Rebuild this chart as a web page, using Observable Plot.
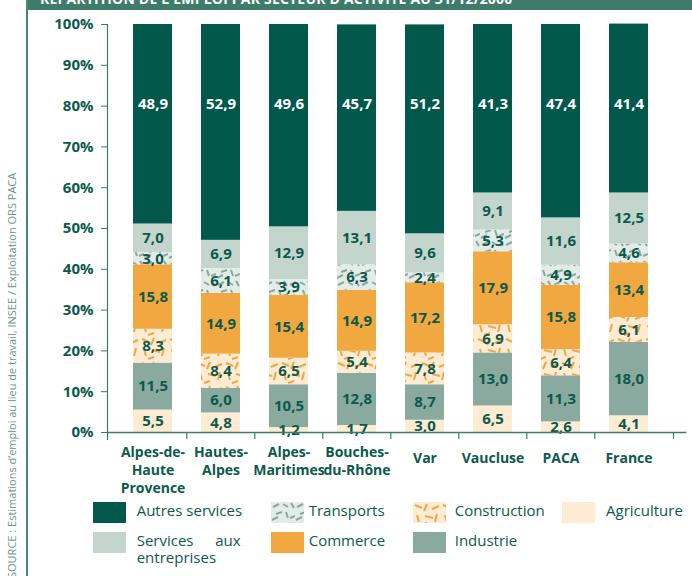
<!DOCTYPE html>
<html>
<head>
<meta charset="utf-8">
<script src="https://cdn.jsdelivr.net/npm/d3@7"></script>
<script src="https://cdn.jsdelivr.net/npm/@observablehq/plot@0.6"></script>
<style>
  body { margin: 0; background: #fff; font-family: "Open Sans", sans-serif; }
  #page { position: relative; width: 692px; height: 576px; overflow: hidden; background: #fff; }
  #chart { position: absolute; left: 0; top: 0; }
  #header { position: absolute; left: 27px; top: 0; right: 0; height: 10px; background: #3e7b6b; overflow: hidden; }
  #header span { position: absolute; left: 13px; top: -8px; color: #fff; font-weight: bold; font-size: 14px; line-height: 14px; white-space: nowrap; letter-spacing: 0.2px; }
  #border { position: absolute; left: 26px; top: 0; width: 2px; height: 576px; background: #4a8473; }
  #source { position: absolute; left: 5px; top: 578px; transform: rotate(-90deg); transform-origin: left top; white-space: nowrap; font-size: 11px; line-height: 14px; color: #6d958a; }
  #legend { position: absolute; left: 0; top: 0; }
  .item { position: absolute; display: flex; align-items: flex-start; color: #0b5a4b; font-size: 15px; line-height: 17px; }
  .item svg { flex: none; display: block; }
  .item .lab { white-space: nowrap; }
  .item .lab.wrap { white-space: normal; width: 104px; text-align: justify; }
</style>
</head>
<body>
<div id="page">
  <div id="chart"></div>
  <div id="header"><span>RÉPARTITION DE L'EMPLOI PAR SECTEUR D'ACTIVITÉ AU 31/12/2000</span></div>
  <div id="border"></div>
  <div id="source">SOURCE : Estimations d’emploi au lieu de travail, INSEE / Exploitation ORS PACA</div>
  <div id="legend"></div>
</div>
<script>
// ---- Data ----
const regions = ["Alpes-de-Haute Provence", "Hautes-Alpes", "Alpes-Maritimes", "Bouches-du-Rhône", "Var", "Vaucluse", "PACA", "France"];
const regionLabels = ["Alpes-de-\nHaute\nProvence", "Hautes-\nAlpes", "Alpes-\nMaritimes", "Bouches-\ndu-Rhône", "Var", "Vaucluse", "PACA", "France"];
const sectors = ["Agriculture", "Industrie", "Construction", "Commerce", "Transports", "Services aux entreprises", "Autres services"];
const agriculture         = [5.5, 4.8, 1.2, 1.7, 3.0, 6.5, 2.6, 4.1];
const industrie           = [11.5, 6.0, 10.5, 12.8, 8.7, 13.0, 11.3, 18.0];
const construction        = [8.3, 8.4, 6.5, 5.4, 7.8, 6.9, 6.4, 6.1];
const commerce            = [15.8, 14.9, 15.4, 14.9, 17.2, 17.9, 15.8, 13.4];
const transports          = [3.0, 6.1, 3.9, 6.3, 2.4, 5.3, 4.9, 4.6];
const servicesEntreprises = [7.0, 6.9, 12.9, 13.1, 9.6, 9.1, 11.6, 12.5];
const autresServices      = [48.9, 52.9, 49.6, 45.7, 51.2, 41.3, 47.4, 41.4];
const yTicks = [0, 10, 20, 30, 40, 50, 60, 70, 80, 90, 100];
const legendOrder = ["Autres services", "Transports", "Construction", "Agriculture", "Services aux entreprises", "Commerce", "Industrie"];

// ---- Styling ----
const ink = "#0b5a4b";
const axisStroke = "#3d7c6c";
const sectorFill = {
  "Agriculture": "#fdebd3",
  "Industrie": "#8aa99f",
  "Construction": "url(#pConstruction)",
  "Commerce": "#f1a841",
  "Transports": "url(#pTransports)",
  "Services aux entreprises": "#c4d5ce",
  "Autres services": "#02594b"
};
const autresLabelY = 80.5;

const series = {
  "Agriculture": agriculture, "Industrie": industrie, "Construction": construction,
  "Commerce": commerce, "Transports": transports,
  "Services aux entreprises": servicesEntreprises, "Autres services": autresServices
};
const rows = [];
regions.forEach((r, i) => {
  let cum = 0;
  sectors.forEach(s => {
    const v = series[s][i];
    rows.push({region: r, sector: s, value: v, mid: s === "Autres services" ? autresLabelY : cum + v / 2});
    cum += v;
  });
});
const fmt = v => d3.format(".1f")(v).replace(".", ",");
const labelOf = Object.fromEntries(regions.map((r, i) => [r, regionLabels[i]]));

const xRange = [116.3, 663.7];
const step = (xRange[1] - xRange[0]) / regions.length;

const plot = Plot.plot({
  width: 692,
  height: 500,
  marginTop: 24,
  marginBottom: 68,
  marginLeft: 107,
  marginRight: 7,
  style: {fontFamily: "'Open Sans', sans-serif", fontSize: "15px", fontWeight: "bold", color: ink, background: "transparent", overflow: "visible"},
  x: {type: "band", domain: regions, range: xRange, paddingInner: 0.43, paddingOuter: 0.215},
  y: {domain: [0, 100]},
  color: {type: "ordinal", domain: sectors, range: sectors.map(s => sectorFill[s])},
  marks: [
    Plot.barY(rows, {x: "region", y: "value", fill: "sector", order: sectors}),
    Plot.text(rows.filter(d => d.sector !== "Autres services"), {x: "region", y: "mid", text: d => fmt(d.value), fill: ink, fontSize: 15}),
    Plot.text(rows.filter(d => d.sector === "Autres services"), {x: "region", y: "mid", text: d => fmt(d.value), fill: "white", fontSize: 15}),
    Plot.frame({anchor: "left", stroke: axisStroke, strokeWidth: 1.2, insetBottom: -7}),
    Plot.frame({anchor: "bottom", stroke: axisStroke, strokeWidth: 1.5}),
    Plot.ruleX(regions.slice(1), {x: d => d, dx: -step / 2, y1: 0, y2: 0, insetBottom: -7, stroke: axisStroke, strokeWidth: 1.2}),
    Plot.ruleX(regions.slice(-1), {x: d => d, dx: 44.5, y1: 0, y2: 0, insetBottom: -7, stroke: axisStroke, strokeWidth: 1.2}),
    Plot.axisY({ticks: yTicks, tickFormat: d => d + "%", tickSize: 6, tickPadding: 8, label: null, stroke: axisStroke, fontSize: 15}),
    Plot.axisX({ticks: regions.slice(0, 4), tickFormat: d => labelOf[d], tickSize: 0, tickPadding: 12, lineHeight: 1.28, label: null, fontSize: 14}),
    Plot.axisX({ticks: regions.slice(4), tickFormat: d => labelOf[d], tickSize: 0, tickPadding: 18, lineHeight: 1.28, label: null, fontSize: 14})
  ]
});

// pattern definitions for hatched sectors
function addPatterns(svgNode) {
  const defs = d3.select(svgNode).insert("defs", ":first-child");
  const pt = defs.append("pattern").attr("id", "pTransports").attr("patternUnits", "userSpaceOnUse").attr("width", 24).attr("height", 20);
  pt.append("rect").attr("width", 24).attr("height", 20).attr("fill", "#e4ece8");
  pt.append("path").attr("d", "M2,5 l6,-3 M12,2 l5,3 M20,1 l3,5 M5,12 l6,-2 M15,10 l2,6 M1,18 l6,-3 M19,16 l5,-2")
    .attr("stroke", "#8aa99f").attr("stroke-width", 2).attr("fill", "none");
  const pc = defs.append("pattern").attr("id", "pConstruction").attr("patternUnits", "userSpaceOnUse").attr("width", 28).attr("height", 24);
  pc.append("rect").attr("width", 28).attr("height", 24).attr("fill", "#fdebd3");
  pc.append("path").attr("d", "M2,3 l7,3 M14,2 l-3,7 M19,7 l7,-3 M4,13 l2,7 M12,14 l8,2 M24,12 l-2,8 M8,23 l6,-2")
    .attr("stroke", "#f1a841").attr("stroke-width", 2).attr("fill", "none");
}
addPatterns(plot);
document.getElementById("chart").appendChild(plot);

// ---- Legend (HTML) ----
const colLeft = [92.7, 270.7, 412.7, 562];
const colGap = [11, 5, 9, 11];
const rowTop = [502, 532];
const legend = document.getElementById("legend");
legendOrder.forEach((s, k) => {
  const col = k < 4 ? k : k - 4;
  const row = k < 4 ? 0 : 1;
  const item = document.createElement("div");
  item.className = "item";
  item.style.left = colLeft[col] + "px";
  item.style.top = rowTop[row] + "px";
  const sw = d3.create("svg").attr("width", 33).attr("height", 21);
  sw.append("rect").attr("width", 33).attr("height", 21).attr("fill", sectorFill[s]);
  item.appendChild(sw.node());
  const lab = document.createElement("div");
  lab.className = "lab" + (s === "Services aux entreprises" ? " wrap" : "");
  lab.style.marginLeft = colGap[col] + "px";
  lab.textContent = s;
  item.appendChild(lab);
  legend.appendChild(item);
});
</script>
</body>
</html>
